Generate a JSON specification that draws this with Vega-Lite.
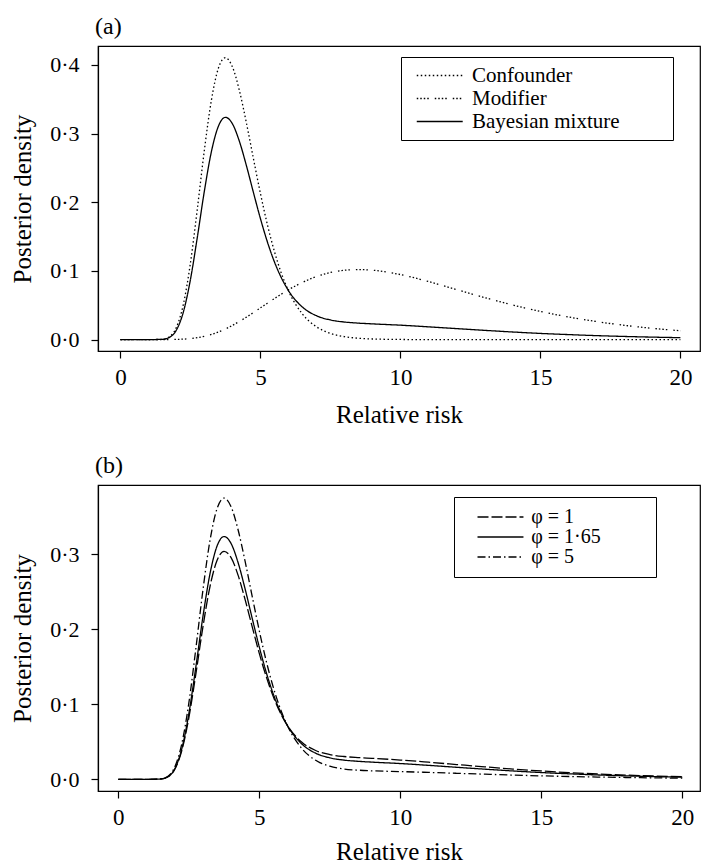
{
  "$schema": "https://vega.github.io/schema/vega-lite/v6.json",
  "background": "white",
  "padding": {"left": 10, "top": 14, "right": 0, "bottom": 0},
  "bounds": "flush",
  "spacing": 134,
  "datasets": {
    "a": [
      {"x":0,"y":0,"s":"Confounder"},{"x":0.5,"y":0,"s":"Confounder"},{"x":1,"y":0,"s":"Confounder"},{"x":1.5,"y":0.0005,"s":"Confounder"},{"x":1.75,"y":0.0041,"s":"Confounder"},{"x":2,"y":0.0178,"s":"Confounder"},{"x":2.25,"y":0.0516,"s":"Confounder"},{"x":2.5,"y":0.1112,"s":"Confounder"},{"x":2.75,"y":0.1911,"s":"Confounder"},{"x":3,"y":0.2763,"s":"Confounder"},{"x":3.25,"y":0.3488,"s":"Confounder"},{"x":3.5,"y":0.3953,"s":"Confounder"},{"x":3.75,"y":0.4106,"s":"Confounder"},{"x":4,"y":0.3973,"s":"Confounder"},{"x":4.25,"y":0.3627,"s":"Confounder"},{"x":4.5,"y":0.3156,"s":"Confounder"},{"x":4.75,"y":0.2638,"s":"Confounder"},{"x":5,"y":0.2131,"s":"Confounder"},{"x":5.25,"y":0.1674,"s":"Confounder"},{"x":5.5,"y":0.1284,"s":"Confounder"},{"x":5.75,"y":0.0965,"s":"Confounder"},{"x":6,"y":0.0712,"s":"Confounder"},{"x":6.5,"y":0.0373,"s":"Confounder"},{"x":7,"y":0.0187,"s":"Confounder"},{"x":7.5,"y":0.0091,"s":"Confounder"},{"x":8,"y":0.0043,"s":"Confounder"},{"x":8.5,"y":0.002,"s":"Confounder"},{"x":9,"y":0.0009,"s":"Confounder"},{"x":10,"y":0.0002,"s":"Confounder"},{"x":11,"y":0,"s":"Confounder"},{"x":12,"y":0,"s":"Confounder"},{"x":13,"y":0,"s":"Confounder"},{"x":14,"y":0,"s":"Confounder"},{"x":15,"y":0,"s":"Confounder"},{"x":16,"y":0,"s":"Confounder"},{"x":17,"y":0,"s":"Confounder"},{"x":18,"y":0,"s":"Confounder"},{"x":19,"y":0,"s":"Confounder"},{"x":20,"y":0,"s":"Confounder"},
      {"x":0,"y":0,"s":"Modifier"},{"x":0.5,"y":0,"s":"Modifier"},{"x":1,"y":0,"s":"Modifier"},{"x":1.5,"y":0,"s":"Modifier"},{"x":1.75,"y":0.0001,"s":"Modifier"},{"x":2,"y":0.0003,"s":"Modifier"},{"x":2.25,"y":0.0007,"s":"Modifier"},{"x":2.5,"y":0.0015,"s":"Modifier"},{"x":2.75,"y":0.0028,"s":"Modifier"},{"x":3,"y":0.0048,"s":"Modifier"},{"x":3.25,"y":0.0075,"s":"Modifier"},{"x":3.5,"y":0.0111,"s":"Modifier"},{"x":3.75,"y":0.0155,"s":"Modifier"},{"x":4,"y":0.0206,"s":"Modifier"},{"x":4.25,"y":0.0265,"s":"Modifier"},{"x":4.5,"y":0.0327,"s":"Modifier"},{"x":4.75,"y":0.0393,"s":"Modifier"},{"x":5,"y":0.0462,"s":"Modifier"},{"x":5.25,"y":0.053,"s":"Modifier"},{"x":5.5,"y":0.0598,"s":"Modifier"},{"x":5.75,"y":0.0663,"s":"Modifier"},{"x":6,"y":0.0725,"s":"Modifier"},{"x":6.5,"y":0.0833,"s":"Modifier"},{"x":7,"y":0.0918,"s":"Modifier"},{"x":7.5,"y":0.0977,"s":"Modifier"},{"x":8,"y":0.101,"s":"Modifier"},{"x":8.5,"y":0.102,"s":"Modifier"},{"x":9,"y":0.1011,"s":"Modifier"},{"x":10,"y":0.0947,"s":"Modifier"},{"x":11,"y":0.0846,"s":"Modifier"},{"x":12,"y":0.0729,"s":"Modifier"},{"x":13,"y":0.0613,"s":"Modifier"},{"x":14,"y":0.0505,"s":"Modifier"},{"x":15,"y":0.041,"s":"Modifier"},{"x":16,"y":0.033,"s":"Modifier"},{"x":17,"y":0.0263,"s":"Modifier"},{"x":18,"y":0.0208,"s":"Modifier"},{"x":19,"y":0.0164,"s":"Modifier"},{"x":20,"y":0.0129,"s":"Modifier"},
      {"x":0,"y":0,"s":"Bayesian mixture"},{"x":0.5,"y":0,"s":"Bayesian mixture"},{"x":1,"y":0,"s":"Bayesian mixture"},{"x":1.5,"y":0.0004,"s":"Bayesian mixture"},{"x":1.75,"y":0.0032,"s":"Bayesian mixture"},{"x":2,"y":0.0139,"s":"Bayesian mixture"},{"x":2.25,"y":0.0404,"s":"Bayesian mixture"},{"x":2.5,"y":0.0871,"s":"Bayesian mixture"},{"x":2.75,"y":0.1497,"s":"Bayesian mixture"},{"x":3,"y":0.2166,"s":"Bayesian mixture"},{"x":3.25,"y":0.2737,"s":"Bayesian mixture"},{"x":3.5,"y":0.3108,"s":"Bayesian mixture"},{"x":3.75,"y":0.3237,"s":"Bayesian mixture"},{"x":4,"y":0.3144,"s":"Bayesian mixture"},{"x":4.25,"y":0.2887,"s":"Bayesian mixture"},{"x":4.5,"y":0.2534,"s":"Bayesian mixture"},{"x":4.75,"y":0.2144,"s":"Bayesian mixture"},{"x":5,"y":0.1764,"s":"Bayesian mixture"},{"x":5.25,"y":0.1422,"s":"Bayesian mixture"},{"x":5.5,"y":0.1133,"s":"Bayesian mixture"},{"x":5.75,"y":0.0899,"s":"Bayesian mixture"},{"x":6,"y":0.0715,"s":"Bayesian mixture"},{"x":6.5,"y":0.0474,"s":"Bayesian mixture"},{"x":7,"y":0.0348,"s":"Bayesian mixture"},{"x":7.5,"y":0.0286,"s":"Bayesian mixture"},{"x":8,"y":0.0256,"s":"Bayesian mixture"},{"x":8.5,"y":0.024,"s":"Bayesian mixture"},{"x":9,"y":0.0229,"s":"Bayesian mixture"},{"x":10,"y":0.021,"s":"Bayesian mixture"},{"x":11,"y":0.0186,"s":"Bayesian mixture"},{"x":12,"y":0.016,"s":"Bayesian mixture"},{"x":13,"y":0.0135,"s":"Bayesian mixture"},{"x":14,"y":0.0111,"s":"Bayesian mixture"},{"x":15,"y":0.009,"s":"Bayesian mixture"},{"x":16,"y":0.0073,"s":"Bayesian mixture"},{"x":17,"y":0.0058,"s":"Bayesian mixture"},{"x":18,"y":0.0046,"s":"Bayesian mixture"},{"x":19,"y":0.0036,"s":"Bayesian mixture"},{"x":20,"y":0.0028,"s":"Bayesian mixture"}
    ],
    "b": [
      {"x":0,"y":0,"s":"φ = 1"},{"x":0.5,"y":0,"s":"φ = 1"},{"x":1,"y":0,"s":"φ = 1"},{"x":1.5,"y":0.0004,"s":"φ = 1"},{"x":1.75,"y":0.003,"s":"φ = 1"},{"x":2,"y":0.0131,"s":"φ = 1"},{"x":2.25,"y":0.0379,"s":"φ = 1"},{"x":2.5,"y":0.0816,"s":"φ = 1"},{"x":2.75,"y":0.1403,"s":"φ = 1"},{"x":3,"y":0.203,"s":"φ = 1"},{"x":3.25,"y":0.2567,"s":"φ = 1"},{"x":3.5,"y":0.2916,"s":"φ = 1"},{"x":3.75,"y":0.3039,"s":"φ = 1"},{"x":4,"y":0.2956,"s":"φ = 1"},{"x":4.25,"y":0.2719,"s":"φ = 1"},{"x":4.5,"y":0.2392,"s":"φ = 1"},{"x":4.75,"y":0.2032,"s":"φ = 1"},{"x":5,"y":0.168,"s":"φ = 1"},{"x":5.25,"y":0.1365,"s":"φ = 1"},{"x":5.5,"y":0.1099,"s":"φ = 1"},{"x":5.75,"y":0.0884,"s":"φ = 1"},{"x":6,"y":0.0716,"s":"φ = 1"},{"x":6.5,"y":0.0497,"s":"φ = 1"},{"x":7,"y":0.0384,"s":"φ = 1"},{"x":7.5,"y":0.033,"s":"φ = 1"},{"x":8,"y":0.0304,"s":"φ = 1"},{"x":8.5,"y":0.029,"s":"φ = 1"},{"x":9,"y":0.028,"s":"φ = 1"},{"x":10,"y":0.0257,"s":"φ = 1"},{"x":11,"y":0.0228,"s":"φ = 1"},{"x":12,"y":0.0197,"s":"φ = 1"},{"x":13,"y":0.0166,"s":"φ = 1"},{"x":14,"y":0.0136,"s":"φ = 1"},{"x":15,"y":0.0111,"s":"φ = 1"},{"x":16,"y":0.0089,"s":"φ = 1"},{"x":17,"y":0.0071,"s":"φ = 1"},{"x":18,"y":0.0056,"s":"φ = 1"},{"x":19,"y":0.0044,"s":"φ = 1"},{"x":20,"y":0.0035,"s":"φ = 1"},
      {"x":0,"y":0,"s":"φ = 1·65"},{"x":0.5,"y":0,"s":"φ = 1·65"},{"x":1,"y":0,"s":"φ = 1·65"},{"x":1.5,"y":0.0004,"s":"φ = 1·65"},{"x":1.75,"y":0.0032,"s":"φ = 1·65"},{"x":2,"y":0.0139,"s":"φ = 1·65"},{"x":2.25,"y":0.0404,"s":"φ = 1·65"},{"x":2.5,"y":0.0871,"s":"φ = 1·65"},{"x":2.75,"y":0.1497,"s":"φ = 1·65"},{"x":3,"y":0.2166,"s":"φ = 1·65"},{"x":3.25,"y":0.2737,"s":"φ = 1·65"},{"x":3.5,"y":0.3108,"s":"φ = 1·65"},{"x":3.75,"y":0.3237,"s":"φ = 1·65"},{"x":4,"y":0.3144,"s":"φ = 1·65"},{"x":4.25,"y":0.2887,"s":"φ = 1·65"},{"x":4.5,"y":0.2534,"s":"φ = 1·65"},{"x":4.75,"y":0.2144,"s":"φ = 1·65"},{"x":5,"y":0.1764,"s":"φ = 1·65"},{"x":5.25,"y":0.1422,"s":"φ = 1·65"},{"x":5.5,"y":0.1133,"s":"φ = 1·65"},{"x":5.75,"y":0.0899,"s":"φ = 1·65"},{"x":6,"y":0.0715,"s":"φ = 1·65"},{"x":6.5,"y":0.0474,"s":"φ = 1·65"},{"x":7,"y":0.0348,"s":"φ = 1·65"},{"x":7.5,"y":0.0286,"s":"φ = 1·65"},{"x":8,"y":0.0256,"s":"φ = 1·65"},{"x":8.5,"y":0.024,"s":"φ = 1·65"},{"x":9,"y":0.0229,"s":"φ = 1·65"},{"x":10,"y":0.021,"s":"φ = 1·65"},{"x":11,"y":0.0186,"s":"φ = 1·65"},{"x":12,"y":0.016,"s":"φ = 1·65"},{"x":13,"y":0.0135,"s":"φ = 1·65"},{"x":14,"y":0.0111,"s":"φ = 1·65"},{"x":15,"y":0.009,"s":"φ = 1·65"},{"x":16,"y":0.0073,"s":"φ = 1·65"},{"x":17,"y":0.0058,"s":"φ = 1·65"},{"x":18,"y":0.0046,"s":"φ = 1·65"},{"x":19,"y":0.0036,"s":"φ = 1·65"},{"x":20,"y":0.0028,"s":"φ = 1·65"},
      {"x":0,"y":0,"s":"φ = 5"},{"x":0.5,"y":0,"s":"φ = 5"},{"x":1,"y":0,"s":"φ = 5"},{"x":1.5,"y":0.0005,"s":"φ = 5"},{"x":1.75,"y":0.0037,"s":"φ = 5"},{"x":2,"y":0.0162,"s":"φ = 5"},{"x":2.25,"y":0.047,"s":"φ = 5"},{"x":2.5,"y":0.1013,"s":"φ = 5"},{"x":2.75,"y":0.1742,"s":"φ = 5"},{"x":3,"y":0.2519,"s":"φ = 5"},{"x":3.25,"y":0.3181,"s":"φ = 5"},{"x":3.5,"y":0.3607,"s":"φ = 5"},{"x":3.75,"y":0.375,"s":"φ = 5"},{"x":4,"y":0.3634,"s":"φ = 5"},{"x":4.25,"y":0.3324,"s":"φ = 5"},{"x":4.5,"y":0.2901,"s":"φ = 5"},{"x":4.75,"y":0.2436,"s":"φ = 5"},{"x":5,"y":0.1981,"s":"φ = 5"},{"x":5.25,"y":0.1571,"s":"φ = 5"},{"x":5.5,"y":0.1222,"s":"φ = 5"},{"x":5.75,"y":0.0938,"s":"φ = 5"},{"x":6,"y":0.0713,"s":"φ = 5"},{"x":6.5,"y":0.0414,"s":"φ = 5"},{"x":7,"y":0.0253,"s":"φ = 5"},{"x":7.5,"y":0.0175,"s":"φ = 5"},{"x":8,"y":0.0138,"s":"φ = 5"},{"x":8.5,"y":0.0122,"s":"φ = 5"},{"x":9,"y":0.0113,"s":"φ = 5"},{"x":10,"y":0.0103,"s":"φ = 5"},{"x":11,"y":0.0092,"s":"φ = 5"},{"x":12,"y":0.008,"s":"φ = 5"},{"x":13,"y":0.0068,"s":"φ = 5"},{"x":14,"y":0.0056,"s":"φ = 5"},{"x":15,"y":0.0046,"s":"φ = 5"},{"x":16,"y":0.0037,"s":"φ = 5"},{"x":17,"y":0.003,"s":"φ = 5"},{"x":18,"y":0.0024,"s":"φ = 5"},{"x":19,"y":0.0019,"s":"φ = 5"},{"x":20,"y":0.0015,"s":"φ = 5"}
    ]
  },
  "vconcat": [
    {
      "width": 602,
      "height": 305,
      "title": {"text": "(a)", "dx": -3, "offset": 7},
      "data": {"name": "a"},
      "mark": {"type": "line", "interpolate": "monotone", "color": "black", "strokeWidth": 1.3},
      "encoding": {
        "x": {"field": "x", "type": "quantitative",
              "scale": {"domain": [-0.8, 20.7], "nice": false, "zero": false},
              "axis": {"values": [0, 5, 10, 15, 20], "title": "Relative risk"}},
        "y": {"field": "y", "type": "quantitative",
              "scale": {"domain": [-0.0166, 0.4276], "nice": false, "zero": false},
              "axis": {"values": [0, 0.1, 0.2, 0.3, 0.4], "labelExpr": "replace(format(datum.value, '.1f'), '.', '·')", "title": "Posterior density"}},
        "strokeDash": {"field": "s", "type": "nominal",
              "scale": {"domain": ["Confounder", "Modifier", "Bayesian mixture"],
                        "range": [[1.5, 2.5], [1.5, 2, 1.5, 2, 1.5, 2, 1.5, 6], [1, 0]]},
              "legend": {"legendX": 303, "legendY": 11, "labelFontSize": 21, "rowPadding": 1,
                         "padding": 8, "symbolOffset": 3, "labelOffset": 39,
                         "labelExpr": "datum.label + '\u2800\u2800\u2800'"}}
      }
    },
    {
      "width": 602,
      "height": 306,
      "title": {"text": "(b)", "dx": -3, "offset": 7},
      "data": {"name": "b"},
      "mark": {"type": "line", "interpolate": "monotone", "color": "black", "strokeWidth": 1.3},
      "encoding": {
        "x": {"field": "x", "type": "quantitative",
              "scale": {"domain": [-0.72, 20.63], "nice": false, "zero": false},
              "axis": {"values": [0, 5, 10, 15, 20], "title": "Relative risk", "titlePadding": 10}},
        "y": {"field": "y", "type": "quantitative",
              "scale": {"domain": [-0.0156, 0.3924], "nice": false, "zero": false},
              "axis": {"values": [0, 0.1, 0.2, 0.3], "labelExpr": "replace(format(datum.value, '.1f'), '.', '·')", "title": "Posterior density"}},
        "strokeDash": {"field": "s", "type": "nominal",
              "scale": {"domain": ["φ = 1", "φ = 1·65", "φ = 5"],
                        "range": [[11, 3], [1, 0], [8, 3, 1.5, 3]]},
              "legend": {"legendX": 356, "legendY": 12, "labelFontSize": 20, "rowPadding": 0,
                         "padding": 10, "symbolOffset": 9.25, "labelOffset": 38,
                         "labelExpr": "datum.label + '\u2800\u2800\u2800'"}}
      }
    }
  ],
  "resolve": {"scale": {"strokeDash": "independent"}, "legend": {"strokeDash": "independent"}},
  "config": {
    "view": {"stroke": "black", "strokeWidth": 1.2},
    "font": "Liberation Serif",
    "title": {"font": "Liberation Serif", "fontSize": 24, "fontWeight": "normal", "anchor": "start", "frame": "group", "color": "black"},
    "axis": {"domainColor": "black", "tickColor": "black", "labelColor": "black", "titleColor": "black", "grid": false,
             "labelFont": "Liberation Serif", "titleFont": "Liberation Serif", "titleFontWeight": "normal",
             "tickSize": 7, "domainWidth": 1.2, "tickWidth": 1.2, "labelFlush": false},
    "axisX": {"labelFontSize": 23, "labelPadding": 8, "titleFontSize": 25, "titlePadding": 13},
    "axisY": {"labelFontSize": 22, "labelPadding": 12, "titleFontSize": 25, "titlePadding": 14},
    "legend": {"orient": "none", "title": null, "strokeColor": "black",
               "labelFont": "Liberation Serif", "labelColor": "black", "labelLimit": 0,
               "symbolType": "M-1,0H7", "symbolSize": 132, "symbolStrokeWidth": 1.3,
               "symbolStrokeColor": "black", "symbolFillColor": "transparent"}
  }
}
